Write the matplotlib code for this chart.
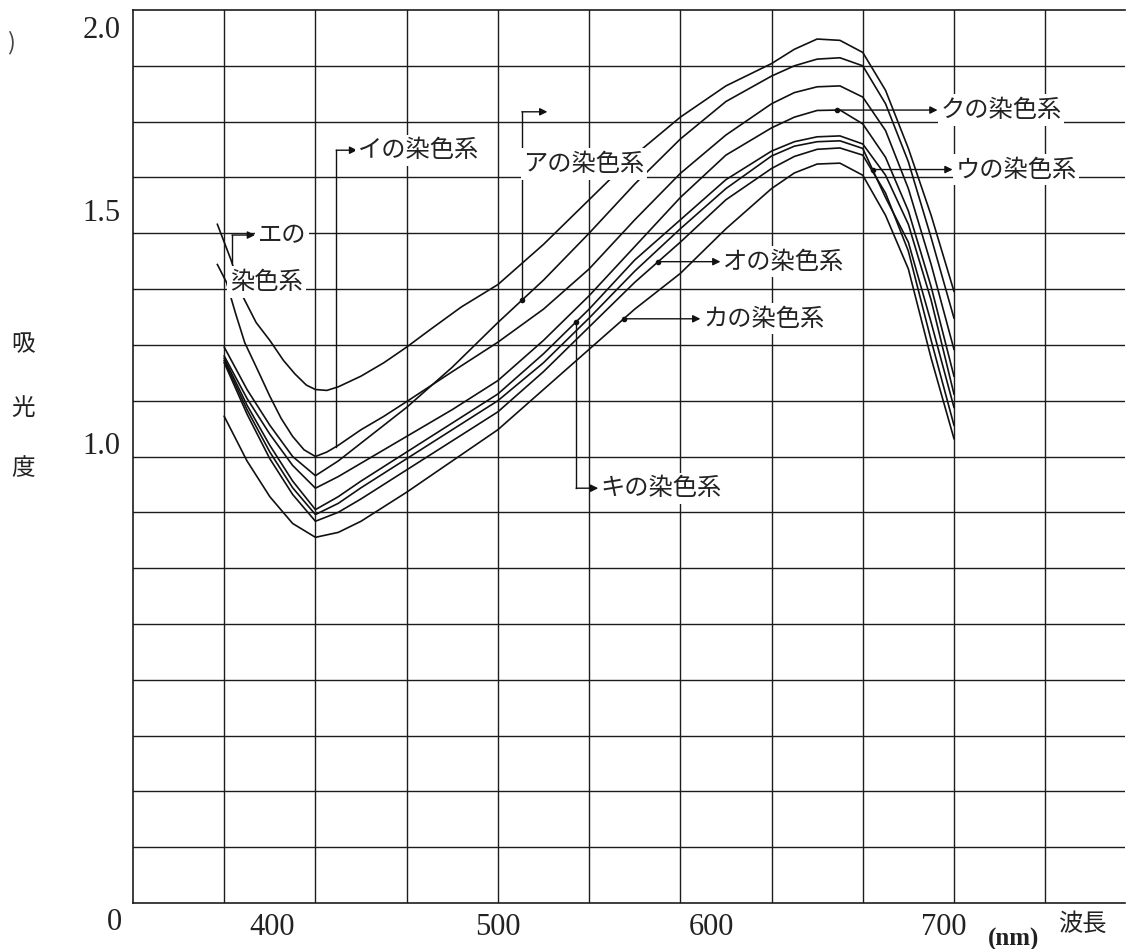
import numpy as np
import matplotlib
matplotlib.use('Agg')
import matplotlib.pyplot as plt
import matplotlib.transforms as mtransforms

plt.rcParams['font.family'] = ['Noto Sans CJK JP', 'DejaVu Sans']

# ---------------- data (wavelength nm, absorbance) ----------------
wl = [380, 390, 400, 410, 420, 430, 440, 460, 480, 500, 520, 540, 560, 580,
      600, 620, 630, 640, 650, 660, 670, 680, 690, 700]

wl_e = [377, 383, 388, 394, 400, 406, 411, 416, 420, 425, 430, 440, 450, 460, 470,
        484, 500, 520, 540, 560, 580, 600, 620, 630, 640, 650, 660, 670, 680, 690, 700]
abs_e = [1.52, 1.44, 1.36, 1.30, 1.26, 1.215, 1.185, 1.16, 1.15, 1.148, 1.156, 1.18,
         1.21, 1.245, 1.283, 1.335, 1.385, 1.475, 1.575, 1.675, 1.76, 1.83, 1.88, 1.912,
         1.935, 1.932, 1.905, 1.82, 1.69, 1.54, 1.37]

wl_i = [377, 381, 385, 389, 395, 400, 405, 410, 415, 420, 425, 430, 440, 450, 460,
        480, 500, 520, 540, 560, 580, 600, 620, 630, 640, 650, 660, 670, 680, 690, 700]
abs_i = [1.43, 1.39, 1.32, 1.255, 1.19, 1.135, 1.085, 1.045, 1.015, 1.0, 1.01, 1.025,
         1.06, 1.09, 1.123, 1.19, 1.256, 1.33, 1.42, 1.53, 1.634, 1.72, 1.79, 1.815,
         1.828, 1.83, 1.805, 1.73, 1.60, 1.43, 1.24]

abs_a = [1.245, 1.15, 1.07, 1.00, 0.957, 0.99, 1.03, 1.11, 1.20, 1.30, 1.395, 1.50,
         1.61, 1.711, 1.795, 1.852, 1.875, 1.89, 1.893, 1.875, 1.79, 1.66, 1.49, 1.31]
abs_ku = [1.225, 1.13, 1.05, 0.98, 0.929, 0.955, 0.985, 1.045, 1.105, 1.17, 1.26, 1.36,
          1.47, 1.58, 1.675, 1.736, 1.76, 1.775, 1.776, 1.745, 1.67, 1.55, 1.38, 1.18]
abs_ki = [1.22, 1.115, 1.025, 0.945, 0.881, 0.91, 0.945, 1.01, 1.075, 1.14, 1.23, 1.33,
          1.44, 1.53, 1.62, 1.684, 1.705, 1.716, 1.718, 1.70, 1.63, 1.52, 1.35, 1.14]
abs_u = [1.215, 1.105, 1.01, 0.93, 0.87, 0.895, 0.93, 0.995, 1.06, 1.125, 1.21, 1.31,
         1.415, 1.51, 1.60, 1.673, 1.695, 1.705, 1.707, 1.69, 1.58, 1.48, 1.30, 1.11]
abs_o = [1.21, 1.095, 0.995, 0.915, 0.855, 0.875, 0.905, 0.97, 1.035, 1.10, 1.19, 1.29,
         1.39, 1.48, 1.575, 1.645, 1.672, 1.688, 1.691, 1.675, 1.59, 1.46, 1.26, 1.07]
abs_ka = [1.09, 0.99, 0.91, 0.85, 0.819, 0.83, 0.855, 0.92, 0.99, 1.06, 1.15, 1.24,
          1.33, 1.41, 1.51, 1.60, 1.635, 1.655, 1.657, 1.63, 1.54, 1.42, 1.22, 1.04]

series = {
    'エ': (wl_e, abs_e), 'イ': (wl_i, abs_i), 'ア': (wl, abs_a), 'ク': (wl, abs_ku),
    'キ': (wl, abs_ki), 'ウ': (wl, abs_u), 'オ': (wl, abs_o), 'カ': (wl, abs_ka),
}

x_grid = np.arange(380, 741, 40)
y_grid = np.arange(0.125, 2.0, 0.125)
xtick_vals = [400, 500, 600, 700]
ytick_vals = [1.0, 1.5, 2.0]
ytick_labels = ['1.0', '1.5', '2.0']

suffix = 'の染色系'

# ---------------- figure ----------------
W, H = 1131, 949
fig = plt.figure(figsize=(W / 100, H / 100), dpi=100)
ax = fig.add_axes([133 / W, 46 / H, 992 / W, 893 / H])
ax.set_xlim(340, 775)
ax.set_ylim(0, 2.0)

gc = '#1c1c1c'
for x in x_grid:
    ax.axvline(x, color=gc, lw=1.0, zorder=1)
for y in y_grid:
    ax.axhline(y, color=gc, lw=1.0, zorder=1)
for s in ['left', 'bottom', 'top']:
    ax.spines[s].set_linewidth(1.2)
    ax.spines[s].set_color(gc)
ax.spines['right'].set_visible(False)

serif = 'Liberation Serif'
ax.set_xticks(xtick_vals)
ax.set_xticklabels([str(v) for v in xtick_vals], fontfamily=serif, fontsize=22)
ax.set_yticks(ytick_vals)
ax.set_yticklabels(ytick_labels, fontfamily=serif, fontsize=22)
ax.tick_params(axis='both', length=0, colors='#222222')
ax.tick_params(axis='x', pad=7)
ax.tick_params(axis='y', pad=9)

# small print offsets of the tick labels as in the scanned original (pixels)
x_label_shift = [2, 0, -14, -10]
y_label_shift = [13, 23, -17]
fig.canvas.draw()
for lab, dx in zip(ax.get_xticklabels(), x_label_shift):
    lab.set_transform(lab.get_transform() +
                      mtransforms.ScaledTranslation(dx / 100, 0, fig.dpi_scale_trans))
for lab, dy in zip(ax.get_yticklabels(), y_label_shift):
    lab.set_transform(lab.get_transform() +
                      mtransforms.ScaledTranslation(0, dy / 100, fig.dpi_scale_trans))

ax.annotate('0', xy=(340, 0), xytext=(-8, -14), textcoords='offset points',
            ha='right', va='center', fontfamily=serif, fontsize=22, color='#222222')

# curves
for name, (x, y) in series.items():
    ax.plot(x, y, color='#111111', lw=1.2, zorder=3, solid_joinstyle='round')


def val(name, nm):
    x, y = series[name]
    return float(np.interp(nm, x, y))


lab_kw = dict(fontsize=17.5, color='#222222', va='center', ha='left', zorder=6,
              bbox=dict(facecolor='white', edgecolor='none', pad=2))
line_kw = dict(color='#111111', lw=1.0, zorder=4)
arr_kw = dict(arrowstyle='-|>', lw=1.0, color='#111111', mutation_scale=11,
              shrinkA=0, shrinkB=0)


def harrow(x0, x1, y):
    ax.annotate('', xy=(x1, y), xytext=(x0, y), arrowprops=arr_kw, zorder=5)


# エ : bracket up from curve
nm = 383.4
y0 = val('エ', nm)
ax.plot([nm, nm], [y0, 1.496], **line_kw)
harrow(nm, 393.5, 1.496)
ax.text(394.8, 1.496, 'エの', **lab_kw)
ax.text(382.6, 1.391, '染色系', **lab_kw)

# イ : long bracket up
nm = 429.1
y0 = val('イ', nm)
ax.plot([nm, nm], [y0, 1.686], **line_kw)
harrow(nm, 438.3, 1.686)
ax.text(438.7, 1.686, 'イ' + suffix, **lab_kw)

# ア : dot, bracket up, arrow; label below arrow
nm = 510.5
y0 = val('ア', nm)
ax.plot([nm], [y0], 'o', ms=3, color='#111111', zorder=5)
ax.plot([nm, nm], [y0, 1.772], **line_kw)
harrow(nm, 521.7, 1.772)
ax.text(511.1, 1.655, 'ア' + suffix, **lab_kw)

# キ : dot, bracket down
nm = 534.3
y0 = val('キ', nm)
ax.plot([nm], [y0], 'o', ms=3, color='#111111', zorder=5)
ax.plot([nm, nm], [y0, 0.929], **line_kw)
harrow(nm, 544.0, 0.929)
ax.text(544.9, 0.929, 'キ' + suffix, **lab_kw)

# カ, オ, ク, ウ : horizontal arrows
for name, nm, x_end in [('カ', 555.2, 588.8), ('オ', 570.3, 597.6),
                        ('ク', 648.9, 692.8), ('ウ', 664.3, 699.4)]:
    y0 = val(name, nm)
    ax.plot([nm], [y0], 'o', ms=3, color='#111111', zorder=5)
    harrow(nm, x_end, y0)
    ax.text(x_end + 1.3, y0, name + suffix, **lab_kw)

# axis titles
for ch, py in zip(['吸', '光', '度'], [345, 408, 469]):
    fig.text(23 / W, 1 - py / H, ch, fontsize=17, ha='center', va='center', color='#222222')
fig.text(1082 / W, 1 - 924 / H, '波長', fontsize=17.5, ha='center', va='center', color='#222222')
fig.text(1014 / W, 1 - 939 / H, '(nm)', fontsize=18, fontweight='bold', fontfamily=serif,
         ha='center', va='center', color='#222222')
fig.text(11 / W, 1 - 43 / H, ')', fontsize=17, ha='center', va='center', color='#444444')

fig.savefig('out.png', dpi=100, facecolor='white')
